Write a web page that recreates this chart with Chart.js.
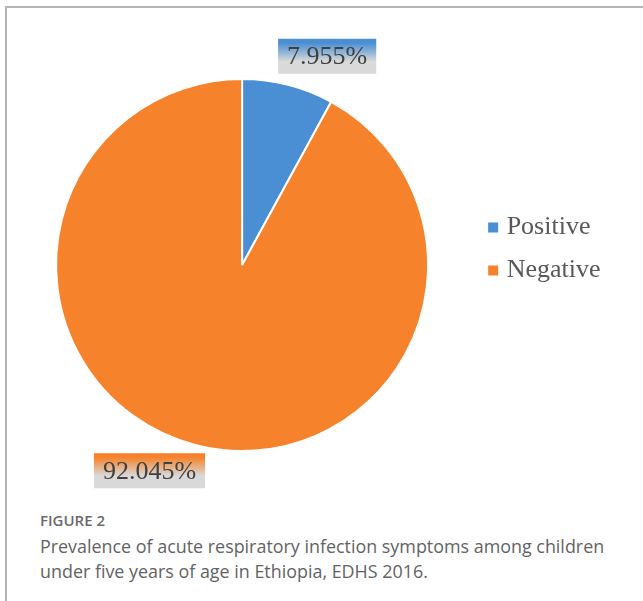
<!DOCTYPE html>
<html>
<head>
<meta charset="utf-8">
<script src="https://cdn.jsdelivr.net/npm/chart.js@4"></script>
<style>
  html, body { margin: 0; padding: 0; background: #fff; }
  body { width: 643px; height: 601px; position: relative; overflow: hidden; }
  #frame {
    position: absolute; left: 5px; top: 6px; right: 0; bottom: 0;
    border-top: 2px solid #b4b4b4; border-left: 2px solid #b4b4b4;
  }
  #wrap { position: absolute; left: 0; top: 0; width: 643px; height: 500px; }
  #caption { position: absolute; left: 40px; top: 510px; font-family: "Open Sans", sans-serif; color: #636363; }
  #caption .fig { font-size: 15px; line-height: 20px; font-weight: 600; color: #6a6a6a; }
  #caption .txt { font-size: 17.9px; line-height: 25px; margin-top: 4px; white-space: nowrap; }
</style>
</head>
<body>
<div id="frame"></div>
<div id="wrap"><canvas id="pie"></canvas></div>
<div id="caption">
  <div class="fig">FIGURE 2</div>
  <div class="txt">Prevalence of acute respiratory infection symptoms among children<br>under five years of age in Ethiopia, EDHS 2016.</div>
</div>
<script>
// données du graphique
const categories = ['Positive', 'Negative'];
const values = [7.955, 92.045];
const sliceColors = ['#4a8fd3', '#f6832b'];

// étiquettes avec fond dégradé, placées hors du camembert
const outsideLabels = {
    id: 'outsideLabels',
    afterDatasetsDraw(chart) {
        const ctx = chart.ctx;
        const meta = chart.getDatasetMeta(0);
        ctx.save();
        ctx.font = '26px "Liberation Serif", "Times New Roman", serif';
        ctx.textAlign = 'center';
        ctx.textBaseline = 'middle';
        meta.data.forEach((arc, i) => {
            const p = arc.getProps(['x', 'y', 'startAngle', 'endAngle', 'outerRadius'], true);
            const mid = (p.startAngle + p.endAngle) / 2;
            const ax = p.x + Math.cos(mid) * p.outerRadius;
            const ay = p.y + Math.sin(mid) * p.outerRadius;
            const text = values[i].toFixed(3) + '%';
            const w = ctx.measureText(text).width + 18;
            const h = 35;
            const left = Math.cos(mid) >= 0 ? ax - 10 : ax + 9 - w;
            const top = Math.sin(mid) < 0 ? ay - 11 - h : ay + 8;
            const grad = ctx.createLinearGradient(0, top, 0, top + h);
            grad.addColorStop(0, sliceColors[i]);
            grad.addColorStop(0.12, sliceColors[i]);
            grad.addColorStop(0.65, '#d9d9d9');
            grad.addColorStop(1, '#d9d9d9');
            ctx.fillStyle = grad;
            ctx.fillRect(left, top, w, h);
            ctx.fillStyle = '#404040';
            ctx.fillText(text, left + w / 2, top + h / 2 + 1);
        });
        ctx.restore();
    }
};

// remonte un peu la légende
const legendShift = {
    id: 'legendShift',
    afterLayout(chart) {
        chart.legend.top -= 16;
        chart.legend.bottom -= 16;
    }
};

new Chart(document.getElementById('pie').getContext('2d'), {
    type: 'pie',
    data: {
        labels: categories,
        datasets: [{
            data: values,
            backgroundColor: sliceColors,
            borderColor: '#ffffff',
            borderWidth: 2
        }]
    },
    options: {
        responsive: true,
        maintainAspectRatio: false,
        animation: false,
        layout: { padding: { top: 78, bottom: 48, left: 8.5, right: 32.5 } },
        plugins: {
            tooltip: { enabled: false },
            legend: {
                position: 'right',
                labels: {
                    usePointStyle: true,
                    pointStyle: 'rect',
                    boxWidth: 1,
                    boxHeight: 10,
                    padding: 17,
                    color: '#595959',
                    font: { family: '"Liberation Serif", "Times New Roman", serif', size: 26 },
                    generateLabels: (chart) => Chart.overrides.pie.plugins.legend.labels.generateLabels(chart)
                        .map(item => ({ ...item, lineWidth: 0, strokeStyle: 'transparent' }))
                }
            }
        }
    },
    plugins: [outsideLabels, legendShift]
});
</script>
</body>
</html>
